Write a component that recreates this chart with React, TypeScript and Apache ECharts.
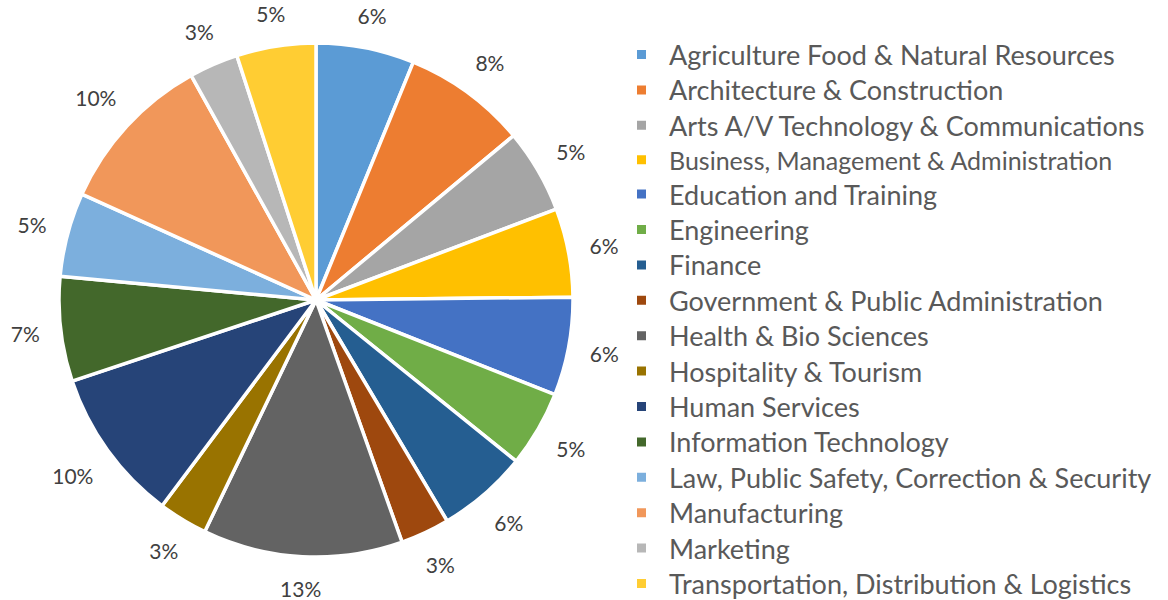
import React, { useEffect, useRef } from "react";
import * as echarts from "echarts";

const categories = [
  "Agriculture Food & Natural Resources",
  "Architecture & Construction",
  "Arts A/V Technology & Communications",
  "Business, Management & Administration",
  "Education and Training",
  "Engineering",
  "Finance",
  "Government & Public Administration",
  "Health & Bio Sciences",
  "Hospitality & Tourism",
  "Human Services",
  "Information Technology",
  "Law, Public Safety, Correction & Security",
  "Manufacturing",
  "Marketing",
  "Transportation, Distribution & Logistics",
];

const values = [6.2, 7.8, 5.3, 5.6, 6.2, 4.8, 5.7, 3.1, 12.6, 3.1, 9.7, 6.6, 5.3, 10.2, 3.1, 5.0];

const colors = [
  "#5B9BD5", "#ED7D31", "#A5A5A5", "#FFC000", "#4472C4", "#70AD47", "#255E91", "#9E480E",
  "#636363", "#997300", "#264478", "#43682B", "#7CAFDD", "#F1975A", "#B7B7B7", "#FFCD33",
];

const smallLegendItem = "Business, Management & Administration";

const CX = 316;
const CY = 300;
const R = 257;
const LABEL_GAP = 20;

export default function App() {
  const ref = useRef<HTMLDivElement>(null);
  useEffect(() => {
    if (!ref.current) return;
    const chart = echarts.init(ref.current, null, { renderer: "svg" });
    const data = categories.map((name, i) => ({ name, value: values[i], itemStyle: { color: colors[i] } }));
    const ghost = categories.map((name, i) => ({ name, value: values[i] }));
    chart.setOption({
      animation: false,
      backgroundColor: "#ffffff",
      legend: {
        orient: "vertical",
        left: 635,
        top: 41,
        height: 600,
        padding: 0,
        itemWidth: 11,
        itemHeight: 11,
        itemGap: 8.4,
        icon: "rect",
        data: categories,
        formatter: (name: string) => (name === smallLegendItem ? `{s|${name}}` : `{a|${name}}`),
        textStyle: {
          color: "#595959",
          fontFamily: "Lato",
          rich: {
            a: { fontFamily: "Lato", fontSize: 27, color: "#595959", padding: [0, 0, 0, 17] },
            s: { fontFamily: "Lato", fontSize: 25, color: "#595959", padding: [1, 0, 1, 17] },
          },
        },
      },
      series: [
        {
          type: "pie",
          center: [CX, CY],
          radius: [0, R],
          startAngle: 90,
          clockwise: true,
          data,
          label: { show: false },
          labelLine: { show: false },
          itemStyle: { borderColor: "#ffffff", borderWidth: 3.5 },
          emphasis: { disabled: true },
        },
        {
          type: "pie",
          center: [CX, CY],
          radius: [278, 314],
          startAngle: 90,
          clockwise: true,
          silent: true,
          data: ghost,
          itemStyle: { color: "rgba(0,0,0,0)" },
          label: {
            show: true,
            position: "inside",
            color: "#404040",
            fontFamily: "Lato",
            fontSize: 21,
            formatter: (p: any) => `${Math.round(p.percent)}%`,
          },
          labelLayout: (p: any) => {
            const r = p.labelRect;
            const cx = r.x + r.width / 2;
            const cy = r.y + r.height / 2;
            const dx = cx - CX;
            const dy = cy - CY;
            const d = Math.hypot(dx, dy) || 1;
            const ux = dx / d;
            const uy = dy / d;
            const ext = (r.width / 2) * Math.abs(ux) + (r.height / 2) * Math.abs(uy);
            const dist = R + LABEL_GAP + ext;
            return { x: CX + ux * dist, y: CY + uy * dist, align: "center", verticalAlign: "middle" };
          },
          labelLine: { show: false },
          emphasis: { disabled: true },
        },
      ],
    });
    return () => chart.dispose();
  }, []);
  return <div ref={ref} style={{ position: "fixed", left: 0, top: 0, width: 1168, height: 600 }} />;
}
